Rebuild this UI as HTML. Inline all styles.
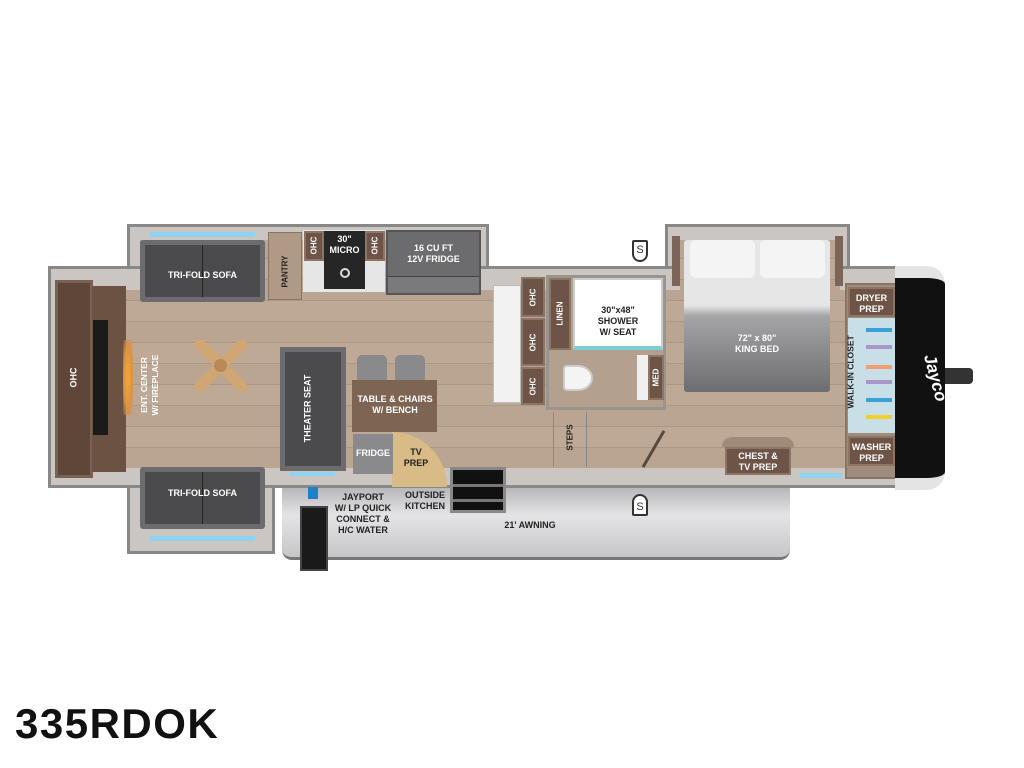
<!DOCTYPE html>
<html><head><meta charset="utf-8"><style>
body{margin:0;width:1024px;height:768px;background:#fff;position:relative;overflow:hidden;font-family:"Liberation Sans",sans-serif}
div{position:absolute;box-sizing:border-box}
.t{color:#fff;font-weight:bold;font-size:9px;text-align:center;line-height:11px}
.d{color:#222;font-weight:bold;font-size:9px;text-align:center;line-height:11px}
.wood{background:repeating-linear-gradient(0deg,#b9a592 0 20px,#ad9886 20px 21px,#bda996 21px 41px,#ab9684 41px 42px)}
.sofa{background:#4b4b4d;border:5px solid #6c6c6e;border-radius:3px}
.ohc{background:#6d5446;border:2px solid #8d7565}
.rot{transform:rotate(-90deg);white-space:nowrap}
</style></head><body>
<!-- outer walls -->
<div style="left:127px;top:224px;width:362px;height:80px;background:#cbc6c1;border:3px solid #888"></div>
<div style="left:665px;top:224px;width:185px;height:60px;background:#cbc6c1;border:3px solid #888"></div>
<div style="left:127px;top:460px;width:148px;height:94px;background:#cbc6c1;border:3px solid #888"></div>
<div style="left:48px;top:266px;width:852px;height:222px;background:#cbc6c1;border:3px solid #888"></div>
<!-- floor -->
<div class="wood" style="left:125px;top:290px;width:720px;height:178px"></div>
<div class="wood" style="left:140px;top:240px;width:340px;height:60px"></div>
<div class="wood" style="left:680px;top:240px;width:160px;height:60px"></div>
<!-- left OHC & ent center -->
<div style="left:55px;top:280px;width:38px;height:198px;background:#5e4638;border:3px solid #7a6252"></div>
<div class="t rot" style="left:55px;top:372px;width:38px">OHC</div>
<div style="left:92px;top:286px;width:34px;height:186px;background:#6b5243"></div>
<div style="left:93px;top:320px;width:15px;height:115px;background:#1b1b1b"></div>
<div style="left:123px;top:340px;width:10px;height:75px;background:radial-gradient(#f6a934,#d99245 60%,rgba(185,165,146,0))"></div>
<div class="t rot" style="left:95px;top:374px;width:110px;font-size:8.5px">ENT. CENTER<br>W/ FIREPLACE</div>
<!-- fan -->
<div style="left:186px;top:360px;width:70px;height:11px;background:#d1a574;border-radius:6px;transform:rotate(45deg)"></div>
<div style="left:186px;top:360px;width:70px;height:11px;background:#d1a574;border-radius:6px;transform:rotate(-45deg)"></div>
<div style="left:214px;top:359px;width:13px;height:13px;background:#b88a5a;border-radius:50%"></div>
<!-- sofas -->
<div style="left:150px;top:232px;width:105px;height:5px;background:#8fd3f0"></div>
<div class="sofa" style="left:140px;top:240px;width:125px;height:62px"></div>
<div style="left:202px;top:245px;width:1px;height:52px;background:#222"></div>
<div class="t" style="left:140px;top:270px;width:125px">TRI-FOLD SOFA</div>
<div class="sofa" style="left:140px;top:467px;width:125px;height:62px"></div>
<div style="left:202px;top:472px;width:1px;height:52px;background:#222"></div>
<div class="t" style="left:140px;top:488px;width:125px">TRI-FOLD SOFA</div>
<div style="left:150px;top:536px;width:105px;height:5px;background:#8fd3f0"></div>
<!-- pantry/kitchen -->
<div style="left:268px;top:232px;width:34px;height:68px;background:#b09a86;border:1px solid #8a7462"></div>
<div class="d rot" style="left:262px;top:266px;width:46px;font-size:8px">PANTRY</div>
<div style="left:303px;top:230px;width:82px;height:62px;background:#e6e6e6"></div>
<div class="ohc" style="left:304px;top:231px;width:20px;height:30px"></div>
<div class="t rot" style="left:299px;top:240px;width:30px;font-size:8px">OHC</div>
<div class="ohc" style="left:365px;top:231px;width:20px;height:30px"></div>
<div class="t rot" style="left:360px;top:240px;width:30px;font-size:8px">OHC</div>
<div style="left:324px;top:231px;width:41px;height:58px;background:#262626"></div>
<div class="t" style="left:322px;top:234px;width:45px">30"<br>MICRO</div>
<div style="left:340px;top:268px;width:10px;height:10px;border:2px solid #ddd;border-radius:50%"></div>
<div style="left:386px;top:230px;width:95px;height:65px;background:#6c6c6e;border:2px solid #555"></div>
<div class="t" style="left:386px;top:243px;width:95px">16 CU FT<br>12V FRIDGE</div>
<div style="left:388px;top:276px;width:91px;height:17px;border-top:1px solid #444;background:#7a7a7c"></div>
<!-- theater seat -->
<div style="left:280px;top:347px;width:66px;height:124px;background:#4b4b4d;border:5px solid #6c6c6e"></div>
<div class="t rot" style="left:258px;top:403px;width:100px">THEATER SEAT</div>
<div style="left:290px;top:472px;width:45px;height:4px;background:#8fd3f0"></div>
<!-- table -->
<div style="left:357px;top:355px;width:30px;height:28px;background:#8a8a8c;border-radius:5px"></div>
<div style="left:395px;top:355px;width:30px;height:28px;background:#8a8a8c;border-radius:5px"></div>
<div style="left:352px;top:380px;width:85px;height:52px;background:#7d6453"></div>
<div class="t" style="left:350px;top:394px;width:90px">TABLE &amp; CHAIRS<br>W/ BENCH</div>
<div style="left:392px;top:432px;width:55px;height:55px;background:#d8bb86;border-top-right-radius:55px"></div>
<div style="left:353px;top:434px;width:40px;height:40px;background:#8a8a8c"></div>
<div class="t" style="left:352px;top:448px;width:42px">FRIDGE</div>
<div class="d" style="left:396px;top:447px;width:40px">TV<br>PREP</div>
<!-- island/OHC column -->
<div style="left:493px;top:285px;width:28px;height:118px;background:#f2f2f2;border:1px solid #bbb"></div>
<div class="ohc" style="left:521px;top:277px;width:24px;height:40px"></div>
<div class="t rot" style="left:513px;top:292px;width:40px;font-size:8px">OHC</div>
<div class="ohc" style="left:521px;top:318px;width:24px;height:48px"></div>
<div class="t rot" style="left:513px;top:337px;width:40px;font-size:8px">OHC</div>
<div class="ohc" style="left:521px;top:367px;width:24px;height:38px"></div>
<div class="t rot" style="left:513px;top:381px;width:40px;font-size:8px">OHC</div>
<!-- bathroom -->
<div style="left:546px;top:275px;width:120px;height:135px;background:#b3a08e;border:3px solid #9a948e"></div>
<div class="ohc" style="left:549px;top:278px;width:22px;height:72px"></div>
<div class="t rot" style="left:540px;top:308px;width:40px;font-size:8px">LINEN</div>
<div style="left:573px;top:278px;width:90px;height:72px;background:#fff;border:2px solid #ccc;border-bottom:4px solid #7ccfd0"></div>
<div class="d" style="left:578px;top:305px;width:80px">30"x48"<br>SHOWER<br>W/ SEAT</div>
<div style="left:563px;top:365px;width:30px;height:26px;background:#f4f4f4;border:2px solid #ccc;border-radius:4px 50% 50% 4px"></div>
<div style="left:637px;top:355px;width:12px;height:45px;background:#f0f0f0"></div>
<div class="ohc" style="left:648px;top:355px;width:16px;height:45px"></div>
<div class="t rot" style="left:636px;top:372px;width:40px;font-size:8px">MED</div>
<div style="left:553px;top:412px;width:1px;height:55px;background:#888"></div>
<div style="left:586px;top:412px;width:1px;height:55px;background:#888"></div>
<div class="d rot" style="left:550px;top:432px;width:40px;font-size:8px">STEPS</div>
<div style="left:652px;top:428px;width:3px;height:42px;background:#5a4a3e;transform:rotate(30deg)"></div>
<!-- bed -->
<div style="left:672px;top:236px;width:8px;height:50px;background:#7a6558"></div>
<div style="left:835px;top:236px;width:8px;height:50px;background:#7a6558"></div>
<div style="left:684px;top:240px;width:146px;height:152px;background:linear-gradient(#e6e6e6 0 43%,#a5a5a7 50%,#6d6d70);border-radius:3px"></div>
<div style="left:690px;top:240px;width:65px;height:38px;background:#f4f4f4;border-radius:6px"></div>
<div style="left:760px;top:240px;width:65px;height:38px;background:#f4f4f4;border-radius:6px"></div>
<div class="t" style="left:684px;top:333px;width:146px">72" x 80"<br>KING BED</div>
<!-- chest -->
<div style="left:722px;top:437px;width:72px;height:10px;background:#a08a78;border-radius:12px 12px 0 0"></div>
<div class="ohc" style="left:725px;top:447px;width:66px;height:28px"></div>
<div class="t" style="left:725px;top:451px;width:66px">CHEST &amp;<br>TV PREP</div>
<div style="left:800px;top:473px;width:42px;height:5px;background:#8fd3f0"></div>
<!-- closet -->
<div style="left:845px;top:283px;width:52px;height:196px;background:#a08c7c;border:2px solid #8a7462"></div>
<div class="ohc" style="left:848px;top:287px;width:47px;height:30px"></div>
<div class="t" style="left:848px;top:293px;width:47px">DRYER<br>PREP</div>
<div style="left:848px;top:318px;width:47px;height:115px;background:#c9dfe8"></div>
<div class="d rot" style="left:816px;top:368px;width:70px;font-size:8.5px">WALK-IN CLOSET</div>
<div style="left:866px;top:328px;width:26px;height:4px;background:#3aa0d8"></div>
<div style="left:866px;top:345px;width:26px;height:4px;background:#a898c8"></div>
<div style="left:866px;top:365px;width:26px;height:4px;background:#f0a070"></div>
<div style="left:866px;top:380px;width:26px;height:4px;background:#a898c8"></div>
<div style="left:866px;top:398px;width:26px;height:4px;background:#3aa0d8"></div>
<div style="left:866px;top:415px;width:26px;height:4px;background:#f0d030"></div>
<div class="ohc" style="left:848px;top:436px;width:47px;height:30px"></div>
<div class="t" style="left:848px;top:442px;width:47px">WASHER<br>PREP</div>
<!-- front cap -->
<div style="left:895px;top:266px;width:50px;height:224px;background:#111;border-radius:0 18px 18px 0;border-top:12px solid #e4e4e4;border-bottom:12px solid #e4e4e4"></div>
<div style="left:945px;top:368px;width:28px;height:16px;background:#333;border-radius:0 4px 4px 0"></div>
<div style="left:905px;top:368px;width:60px;color:#fff;font-weight:bold;font-style:italic;font-size:17px;text-align:center;transform:rotate(75deg);white-space:nowrap">Jayco</div>
<!-- awning -->
<div style="left:282px;top:488px;width:508px;height:72px;background:linear-gradient(#b8b8bb,#e4e4e6 40%,#c6c6c8);border-radius:0 0 10px 10px;border-bottom:3px solid #777"></div>
<div class="d" style="left:470px;top:520px;width:120px">21' AWNING</div>
<div style="left:450px;top:467px;width:56px;height:46px;background:#111;border:3px solid #888"></div>
<div style="left:453px;top:484px;width:50px;height:3px;background:#777"></div>
<div style="left:453px;top:499px;width:50px;height:3px;background:#777"></div>
<div style="left:308px;top:487px;width:10px;height:12px;background:#1e80c8"></div>
<div style="left:300px;top:506px;width:28px;height:65px;background:#1a1a1a;border:2px solid #444"></div>
<div class="d" style="left:328px;top:492px;width:70px">JAYPORT<br>W/ LP QUICK<br>CONNECT &amp;<br>H/C WATER</div>
<div class="d" style="left:396px;top:490px;width:58px">OUTSIDE<br>KITCHEN</div>
<!-- S markers -->
<div style="left:632px;top:240px;width:16px;height:22px;background:#fff;border:2px solid #333;border-radius:2px 2px 8px 8px;font-size:11px;text-align:center;line-height:16px;color:#333">S</div>
<div style="left:632px;top:494px;width:16px;height:22px;background:#fff;border:2px solid #333;border-radius:8px 8px 2px 2px;font-size:11px;text-align:center;line-height:22px;color:#333">S</div>
<!-- title -->
<div style="left:15px;top:700px;font-size:42px;font-weight:bold;color:#111;letter-spacing:1.5px;line-height:48px">335RDOK</div>
</body></html>
